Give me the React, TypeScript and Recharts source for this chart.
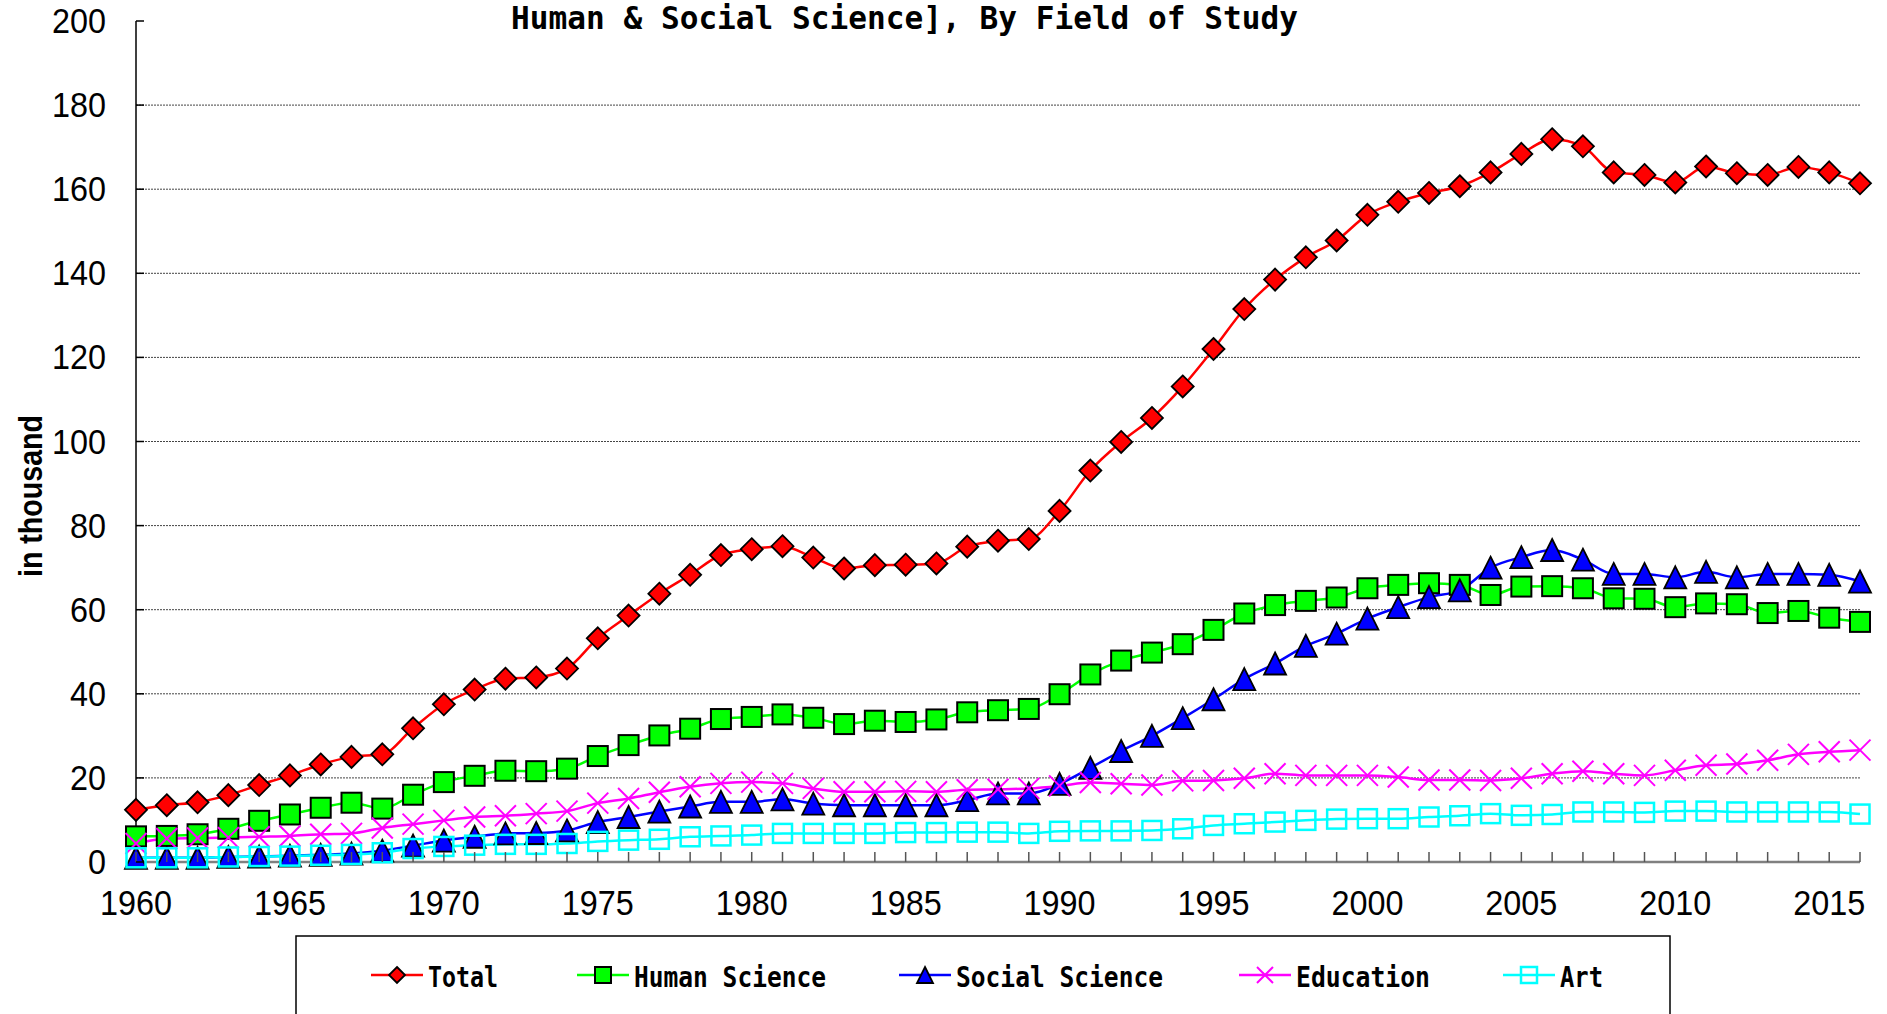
import React from 'react';
import { LineChart, Line, XAxis, YAxis, CartesianGrid } from 'recharts';

const years = [
  1960, 1961, 1962, 1963, 1964, 1965, 1966, 1967, 1968, 1969,
  1970, 1971, 1972, 1973, 1974, 1975, 1976, 1977, 1978, 1979,
  1980, 1981, 1982, 1983, 1984, 1985, 1986, 1987, 1988, 1989,
  1990, 1991, 1992, 1993, 1994, 1995, 1996, 1997, 1998, 1999,
  2000, 2001, 2002, 2003, 2004, 2005, 2006, 2007, 2008, 2009,
  2010, 2011, 2012, 2013, 2014, 2015, 2016,
];

const total = [
  12.4, 13.5, 14.2, 15.9, 18.3, 20.6, 23.2, 25.0, 25.6, 31.8,
  37.5, 41.0, 43.6, 43.9, 46.0, 53.2, 58.6, 63.8, 68.3, 73.0,
  74.4, 75.1, 72.4, 69.8, 70.6, 70.7, 71.0, 75.0, 76.4, 76.8,
  83.5, 93.1, 99.9, 105.6, 113.1, 122.0, 131.5, 138.5, 143.8, 147.8,
  153.9, 157.0, 159.1, 160.7, 164.0, 168.4, 171.9, 170.2, 164.0, 163.4,
  161.6, 165.4, 163.8, 163.4, 165.3, 164.0, 161.4,
];

const humanScience = [
  6.1, 6.2, 6.6, 7.9, 9.8, 11.3, 12.9, 14.1, 12.7, 16.0,
  19.0, 20.5, 21.7, 21.6, 22.2, 25.2, 27.8, 30.1, 31.7, 34.0,
  34.5, 35.1, 34.3, 32.8, 33.6, 33.3, 33.9, 35.6, 36.1, 36.4,
  39.9, 44.6, 47.9, 49.8, 51.8, 55.2, 59.1, 61.1, 62.1, 62.9,
  65.1, 65.9, 66.3, 65.9, 63.5, 65.5, 65.6, 65.1, 62.7, 62.6,
  60.6, 61.5, 61.3, 59.2, 59.7, 58.1, 57.1,
];

const socialScience = [
  1.0, 1.0, 1.0, 1.2, 1.3, 1.5, 1.7, 2.0, 2.7, 3.9,
  5.1, 6.0, 6.8, 6.9, 7.5, 9.5, 10.7, 12.0, 13.2, 14.3,
  14.3, 14.9, 13.9, 13.5, 13.5, 13.5, 13.5, 14.7, 16.3, 16.3,
  18.6, 22.4, 26.4, 30.0, 34.2, 38.7, 43.5, 47.2, 51.4, 54.3,
  57.9, 60.6, 63.0, 64.6, 70.0, 72.5, 74.2, 71.9, 68.5, 68.5,
  67.7, 69.0, 67.7, 68.5, 68.5, 68.3, 66.7,
];

const education = [
  4.4, 5.6, 5.7, 5.8, 6.0, 6.2, 6.6, 6.8, 8.1, 9.0,
  9.9, 10.7, 11.0, 11.5, 12.1, 14.0, 15.1, 16.6, 17.9, 18.7,
  19.0, 18.7, 17.5, 16.7, 16.7, 16.8, 16.7, 17.2, 17.3, 17.5,
  18.1, 18.9, 18.6, 18.3, 19.3, 19.4, 19.9, 21.0, 20.6, 20.6,
  20.6, 20.2, 19.5, 19.5, 19.4, 19.9, 21.0, 21.6, 21.0, 20.6,
  21.8, 23.0, 23.3, 24.2, 25.6, 26.2, 26.6,
];

const art = [
  1.0, 1.0, 1.0, 1.2, 1.3, 1.4, 1.6, 1.8, 2.2, 3.2,
  3.7, 4.0, 4.2, 4.2, 4.4, 4.9, 5.2, 5.4, 6.0, 6.2,
  6.4, 6.8, 6.8, 6.8, 6.8, 7.0, 7.0, 7.1, 7.1, 6.8,
  7.3, 7.4, 7.4, 7.5, 7.9, 8.7, 9.1, 9.5, 9.9, 10.2,
  10.3, 10.3, 10.7, 11.0, 11.5, 11.1, 11.3, 11.9, 11.9, 11.8,
  12.1, 12.1, 11.9, 11.9, 11.9, 11.9, 11.4,
];

const yTicks = [0, 20, 40, 60, 80, 100, 120, 140, 160, 180, 200];
const gridValues = [20, 40, 60, 80, 100, 120, 140, 160, 180];

const data = years.map((year, i) => ({
  year,
  total: total[i],
  human: humanScience[i],
  social: socialScience[i],
  education: education[i],
  art: art[i],
}));

const tickFont = "'Liberation Sans', Arial, sans-serif";
const monoFont = "'DejaVu Sans Mono', 'Liberation Mono', monospace";

type Shape = 'diamond' | 'square' | 'triangle' | 'cross' | 'open';

// draws one marker centred on (cx, cy); r is half its size
function marker(shape: Shape, cx: number, cy: number, r: number, color: string, key?: string | number) {
  switch (shape) {
    case 'diamond':
      return (
        <polygon key={key} points={`${cx},${cy - r} ${cx + r},${cy} ${cx},${cy + r} ${cx - r},${cy}`}
          fill={color} stroke="#000" strokeWidth={1.8} />
      );
    case 'square':
      return <rect key={key} x={cx - r} y={cy - r} width={r * 2} height={r * 2} fill={color} stroke="#000" strokeWidth={2} />;
    case 'triangle':
      return (
        <polygon key={key} points={`${cx},${cy - r} ${cx + r},${cy + r} ${cx - r},${cy + r}`}
          fill={color} stroke="#000" strokeWidth={1.8} />
      );
    case 'cross':
      return (
        <g key={key} stroke={color} strokeWidth={2}>
          <line x1={cx - r} y1={cy - r} x2={cx + r} y2={cy + r} />
          <line x1={cx - r} y1={cy + r} x2={cx + r} y2={cy - r} />
        </g>
      );
    default:
      return <rect key={key} x={cx - r} y={cy - r} width={r * 2} height={r * 2} fill="none" stroke={color} strokeWidth={2.5} />;
  }
}

const series: { key: string; name: string; color: string; shape: Shape; size: number; legendX: number; textWidth: number }[] = [
  { key: 'total', name: 'Total', color: '#ff0000', shape: 'diamond', size: 11, legendX: 371, textWidth: 70 },
  { key: 'human', name: 'Human Science', color: '#00ff00', shape: 'square', size: 10, legendX: 577, textWidth: 192 },
  { key: 'social', name: 'Social Science', color: '#0000ff', shape: 'triangle', size: 11, legendX: 899, textWidth: 207 },
  { key: 'education', name: 'Education', color: '#ff00ff', shape: 'cross', size: 10.5, legendX: 1239, textWidth: 134 },
  { key: 'art', name: 'Art', color: '#00ffff', shape: 'open', size: 9.5, legendX: 1503, textWidth: 43 },
];

function XTick(props: any) {
  const { x, y, payload } = props;
  const year = payload.value as number;
  return (
    <g>
      <line x1={x} y1={y} x2={x} y2={y - 10} stroke="#555" strokeWidth={1.5} />
      {year % 5 === 0 && (
        <text x={x} y={y + 53} textAnchor="middle" fontFamily={tickFont} fontSize={35} fill="#000"
          textLength={72} lengthAdjust="spacingAndGlyphs">
          {year}
        </text>
      )}
    </g>
  );
}

function YTick(props: any) {
  const { x, y, payload } = props;
  const label = String(payload.value);
  return (
    <g>
      <line x1={x} y1={y} x2={x + 8} y2={y} stroke="#000" strokeWidth={1.5} />
      <text x={x - 30} y={y + 12} textAnchor="end" fontFamily={tickFont} fontSize={35} fill="#000"
        textLength={label.length * 18} lengthAdjust="spacingAndGlyphs">
        {label}
      </text>
    </g>
  );
}

export default function App() {
  return (
    <div style={{ position: 'absolute', left: 0, top: 0, width: 1887, height: 1014, background: '#fff', overflow: 'hidden' }}>
      <LineChart width={1887} height={1014} data={data} margin={{ top: 21, right: 27, left: 0, bottom: 0 }}>
        <CartesianGrid vertical={false} horizontalValues={gridValues} stroke="#444" strokeDasharray="2 1" strokeWidth={1} />
        <XAxis
          dataKey="year"
          type="number"
          domain={[1960, 2016]}
          ticks={years}
          interval={0}
          height={152}
          tickSize={0}
          tickMargin={0}
          tickLine={false}
          tick={<XTick />}
          axisLine={{ stroke: '#808080', strokeWidth: 2.5 }}
        />
        <YAxis
          domain={[0, 200]}
          ticks={yTicks}
          interval={0}
          width={136}
          tickSize={0}
          tickMargin={0}
          tickLine={false}
          tick={<YTick />}
          axisLine={{ stroke: '#000', strokeWidth: 1.5 }}
        />
        {series.map((s) => (
          <Line
            key={s.key}
            dataKey={s.key}
            type="monotone"
            stroke={s.color}
            strokeWidth={2.5}
            isAnimationActive={false}
            dot={(p: any) => marker(s.shape, p.cx, p.cy, s.size, s.color, `${s.key}-${p.index}`)}
            activeDot={false}
          />
        ))}
      </LineChart>

      <svg width={1887} height={1014} style={{ position: 'absolute', left: 0, top: 0, pointerEvents: 'none' }}>
        <text x={511} y={29} fontFamily={monoFont} fontWeight="bold" fontSize={32} textLength={787} lengthAdjust="spacingAndGlyphs">
          Human &amp; Social Science], By Field of Study
        </text>
        <text
          transform="translate(42,496) rotate(-90)"
          textAnchor="middle"
          fontFamily={tickFont}
          fontWeight="bold"
          fontSize={33}
          fill="#000"
          textLength={162}
          lengthAdjust="spacingAndGlyphs"
        >
          in thousand
        </text>

        <rect x={296} y={936} width={1374} height={120} fill="#fff" stroke="#000" strokeWidth={1.5} />
        {series.map((s) => (
          <g key={s.key}>
            <line x1={s.legendX} y1={975} x2={s.legendX + 52} y2={975} stroke={s.color} strokeWidth={2.5} />
            {marker(s.shape, s.legendX + 26, 975, 8, s.color)}
            <text
              x={s.legendX + 57}
              y={987}
              fontFamily={monoFont}
              fontWeight="bold"
              fontSize={29}
              textLength={s.textWidth}
              lengthAdjust="spacingAndGlyphs"
            >
              {s.name}
            </text>
          </g>
        ))}
      </svg>
    </div>
  );
}
